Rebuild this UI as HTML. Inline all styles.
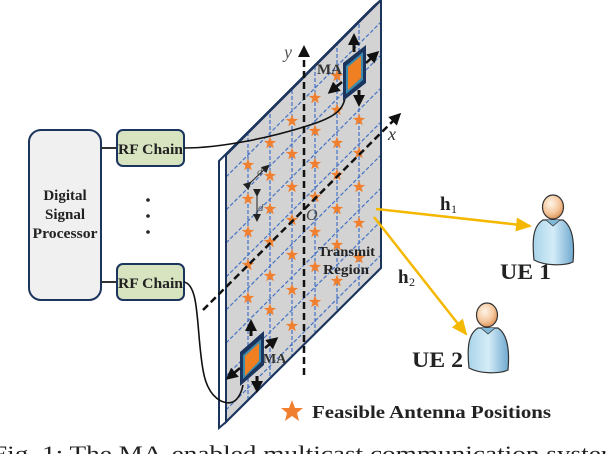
<!DOCTYPE html>
<html><head><meta charset="utf-8"><style>
html,body{margin:0;padding:0;background:#fff;}
svg{display:block;}
text{font-family:"Liberation Serif",serif;}
</style></head><body>
<svg width="606" height="454" viewBox="0 0 606 454" xmlns="http://www.w3.org/2000/svg">
<defs>
<polygon id="st" points="0,-6.5 1.6,-2.1 6.2,-2 2.5,0.8 3.8,5.3 0,2.7 -3.8,5.3 -2.5,0.8 -6.2,-2 -1.6,-2.1" fill="#f08030"/>
<clipPath id="pc"><polygon points="226,155 381,0 381,268 226,422"/></clipPath>
<marker id="ah" markerWidth="8" markerHeight="8" refX="6" refY="4" orient="auto" markerUnits="userSpaceOnUse"><path d="M0,0 L8,4 L0,8 z" fill="#222"/></marker>
<marker id="ao" markerWidth="16" markerHeight="14" refX="14" refY="7" orient="auto" markerUnits="userSpaceOnUse"><path d="M0,0 L16,7 L0,14 z" fill="#f5b800"/></marker>
<marker id="ab" markerWidth="12" markerHeight="12" refX="9" refY="6" orient="auto" markerUnits="userSpaceOnUse"><path d="M0,0 L12,6 L0,12 z" fill="#111"/></marker>
<linearGradient id="body" x1="0" x2="1"><stop offset="0" stop-color="#a9d4ea"/><stop offset="0.5" stop-color="#d4ecf7"/><stop offset="1" stop-color="#6fa9cf"/></linearGradient>
<radialGradient id="head" cx="0.4" cy="0.35" r="0.7"><stop offset="0" stop-color="#fff4e8"/><stop offset="0.6" stop-color="#f4c79c"/><stop offset="1" stop-color="#d98a4e"/></radialGradient>
</defs>

<!-- DSP -->
<rect x="29" y="130" width="72" height="170" rx="12" fill="#f0f0f0" stroke="#1c355e" stroke-width="2"/>
<text x="65" y="200" font-size="15" font-weight="bold" text-anchor="middle" fill="#222">Digital</text>
<text x="65" y="219" font-size="15" font-weight="bold" text-anchor="middle" fill="#222">Signal</text>
<text x="65" y="238" font-size="15" font-weight="bold" text-anchor="middle" fill="#222" textLength="65" lengthAdjust="spacingAndGlyphs">Processor</text>
<line x1="101" y1="148" x2="117" y2="148" stroke="#333" stroke-width="2"/>
<line x1="101" y1="282" x2="117" y2="282" stroke="#333" stroke-width="2"/>
<rect x="117" y="130" width="67" height="36" rx="6" fill="#d8e4c0" stroke="#1c355e" stroke-width="2"/>
<rect x="117" y="264" width="67" height="36" rx="6" fill="#d8e4c0" stroke="#1c355e" stroke-width="2"/>
<text x="118" y="154" font-size="15" font-weight="bold" fill="#222" textLength="65" lengthAdjust="spacingAndGlyphs">RF Chain</text>
<text x="118" y="288" font-size="15" font-weight="bold" fill="#222" textLength="65" lengthAdjust="spacingAndGlyphs">RF Chain</text>
<circle cx="148" cy="200" r="1.8" fill="#222"/><circle cx="148" cy="216" r="1.8" fill="#222"/><circle cx="148" cy="232" r="1.8" fill="#222"/>

<!-- panel back/thickness -->
<polygon points="219,161 374,6 381,0 226,155 226,422 219,428" fill="#fff" stroke="#1c355e" stroke-width="2"/>
<polygon points="226,155 381,0 381,268 226,422" fill="#d3d3d3" stroke="#1c355e" stroke-width="2"/>
<g clip-path="url(#pc)">
<g stroke="#4472c4" stroke-width="1.2" stroke-dasharray="4,2" fill="none">
<line x1="248" y1="0" x2="248" y2="454"/><line x1="270" y1="0" x2="270" y2="454"/><line x1="292" y1="0" x2="292" y2="454"/>
<line x1="315" y1="0" x2="315" y2="454"/><line x1="337" y1="0" x2="337" y2="454"/><line x1="359" y1="0" x2="359" y2="454"/>
<line x1="226" y1="177" x2="381" y2="22"/><line x1="226" y1="210" x2="381" y2="55"/><line x1="226" y1="243" x2="381" y2="88"/>
<line x1="226" y1="277" x2="381" y2="122"/><line x1="226" y1="310" x2="381" y2="155"/><line x1="226" y1="343" x2="381" y2="188"/>
<line x1="226" y1="376" x2="381" y2="221"/><line x1="226" y1="410" x2="381" y2="255"/>
</g>
</g>
<polygon points="226,155 381,0 381,268 226,422" fill="none" stroke="#1c355e" stroke-width="2"/>

<!-- stars -->
<g>
<use href="#st" x="248" y="165"/><use href="#st" x="248" y="199"/><use href="#st" x="248" y="232"/><use href="#st" x="248" y="265"/><use href="#st" x="248" y="298"/>
<use href="#st" x="270" y="143"/><use href="#st" x="270" y="176"/><use href="#st" x="270" y="209"/><use href="#st" x="270" y="242"/><use href="#st" x="270" y="276"/><use href="#st" x="270" y="310"/>
<use href="#st" x="292" y="121"/><use href="#st" x="292" y="154"/><use href="#st" x="292" y="187"/><use href="#st" x="292" y="220"/><use href="#st" x="292" y="255"/><use href="#st" x="292" y="290"/><use href="#st" x="292" y="326"/>
<use href="#st" x="315" y="98"/><use href="#st" x="315" y="131"/><use href="#st" x="315" y="164"/><use href="#st" x="315" y="197"/><use href="#st" x="315" y="232"/><use href="#st" x="315" y="267"/><use href="#st" x="315" y="302"/>
<use href="#st" x="337" y="76"/><use href="#st" x="337" y="110"/><use href="#st" x="337" y="143"/><use href="#st" x="337" y="175"/><use href="#st" x="337" y="209"/><use href="#st" x="337" y="245"/><use href="#st" x="337" y="281"/>
<use href="#st" x="359" y="120"/><use href="#st" x="359" y="153"/><use href="#st" x="359" y="187"/><use href="#st" x="359" y="223"/><use href="#st" x="359" y="258"/>
</g>

<!-- axes -->
<line x1="304" y1="375" x2="304" y2="48" stroke="#111" stroke-width="2.5" stroke-dasharray="7,4" marker-end="url(#ab)"/>
<line x1="203" y1="310" x2="399" y2="115" stroke="#111" stroke-width="2.5" stroke-dasharray="7,4" marker-end="url(#ab)"/>
<text x="284" y="58" font-size="18" font-style="italic" fill="#555">y</text>
<text x="388" y="140" font-size="18" font-style="italic" fill="#333">x</text>
<text x="306" y="220" font-size="16" font-style="italic" fill="#444">O</text>
<text x="257" y="175" font-size="11" font-style="italic" fill="#555">d</text>
<line x1="250" y1="183" x2="268" y2="166" stroke="#222" stroke-width="1" marker-start="url(#ah)" marker-end="url(#ah)"/>
<line x1="257" y1="195" x2="257" y2="220" stroke="#222" stroke-width="1" marker-start="url(#ah)" marker-end="url(#ah)"/>
<text x="258" y="211" font-size="11" font-style="italic" fill="#555">d</text>
<text x="318" y="256" font-size="14" font-weight="bold" fill="#222" textLength="57" lengthAdjust="spacingAndGlyphs">Transmit</text>
<text x="323" y="274" font-size="14" font-weight="bold" fill="#222" textLength="46" lengthAdjust="spacingAndGlyphs">Region</text>

<!-- cables -->
<path d="M184,148 C220,148 270,138 310,125 C335,117 343,110 345,98" fill="none" stroke="#111" stroke-width="1.6"/>
<path d="M184,282 C200,285 196,330 203,370 C208,400 225,405 233,402 C240,398 242,390 243,385" fill="none" stroke="#111" stroke-width="1.6"/>

<!-- MA top -->
<polygon points="343,63 366,45 366,83 343,101" fill="#1c355e"/>
<polygon points="346,66 363,52 363,80 346,94" fill="#3c8cb0"/>
<polygon points="348,67 361,56 361,78 348,90" fill="#f07f22"/>
<line x1="354" y1="52" x2="354" y2="36" stroke="#111" stroke-width="3" marker-end="url(#ab)"/>
<line x1="359" y1="90" x2="359" y2="104" stroke="#111" stroke-width="3" marker-end="url(#ab)"/>
<line x1="366" y1="63" x2="377" y2="53" stroke="#111" stroke-width="2.5" marker-end="url(#ab)"/>
<line x1="342" y1="82" x2="330" y2="92" stroke="#111" stroke-width="2.5" marker-end="url(#ab)"/>
<text x="317" y="74" font-size="15" font-weight="bold" fill="#333">MA</text>

<!-- MA bottom -->
<polygon points="240,352 264,331 264,365 240,386" fill="#1c355e"/>
<polygon points="243,355 261,339 261,362 243,379" fill="#3c8cb0"/>
<polygon points="245,356 259,343 259,361 245,376" fill="#f07f22"/>
<line x1="251" y1="336" x2="251" y2="322" stroke="#111" stroke-width="3" marker-end="url(#ab)"/>
<line x1="257" y1="376" x2="257" y2="390" stroke="#111" stroke-width="3" marker-end="url(#ab)"/>
<line x1="265" y1="348" x2="276" y2="339" stroke="#111" stroke-width="2.5" marker-end="url(#ab)"/>
<line x1="240" y1="368" x2="228" y2="378" stroke="#111" stroke-width="2.5" marker-end="url(#ab)"/>
<text x="263" y="363" font-size="14" font-weight="bold" fill="#333">MA</text>

<!-- channels -->
<line x1="376" y1="209" x2="530" y2="226" stroke="#f5b800" stroke-width="2.5" marker-end="url(#ao)"/>
<line x1="374" y1="217" x2="466" y2="334" stroke="#f5b800" stroke-width="2.5" marker-end="url(#ao)"/>
<text x="440" y="210" font-size="19" font-weight="bold" fill="#222">h</text><text x="451" y="213" font-size="12" fill="#222">1</text>
<text x="398" y="283" font-size="19" font-weight="bold" fill="#222">h</text><text x="409" y="286" font-size="12" fill="#222">2</text>

<!-- UE1 -->
<g>
<path d="M534,260 C532,240 533,226 543,220 L563,220 C572,226 575,240 573,262 C565,266 545,266 534,260 z" fill="url(#body)" stroke="#333" stroke-width="1.2"/>
<path d="M546,220 L553,226 L560,220" fill="#7fb8d8" stroke="#333" stroke-width="0.8"/>
<ellipse cx="553" cy="207" rx="10.5" ry="12" fill="url(#head)" stroke="#333" stroke-width="1.2"/>
<text x="500" y="279" font-size="22" font-weight="bold" fill="#222" textLength="51" lengthAdjust="spacingAndGlyphs">UE 1</text>
</g>
<!-- UE2 -->
<g>
<path d="M469,368 C467,348 468,334 478,328 L498,328 C507,334 510,348 508,370 C500,374 480,374 469,368 z" fill="url(#body)" stroke="#333" stroke-width="1.2"/>
<path d="M481,328 L488,334 L495,328" fill="#7fb8d8" stroke="#333" stroke-width="0.8"/>
<ellipse cx="487" cy="315" rx="10.5" ry="12" fill="url(#head)" stroke="#333" stroke-width="1.2"/>
<text x="412" y="367" font-size="22" font-weight="bold" fill="#222" textLength="51" lengthAdjust="spacingAndGlyphs">UE 2</text>
</g>

<!-- legend -->
<polygon points="292,400 295,408 303,408 297,413 299,421 292,416 285,421 287,413 281,408 289,408" fill="#f08030"/>
<text x="312" y="418" font-size="18" font-weight="bold" fill="#222" textLength="239" lengthAdjust="spacingAndGlyphs">Feasible Antenna Positions</text>

<!-- caption -->
<text x="-8" y="461" font-size="22" fill="#222" textLength="630" lengthAdjust="spacingAndGlyphs">Fig. 1: The MA-enabled multicast communication system</text>
</svg>
</body></html>
